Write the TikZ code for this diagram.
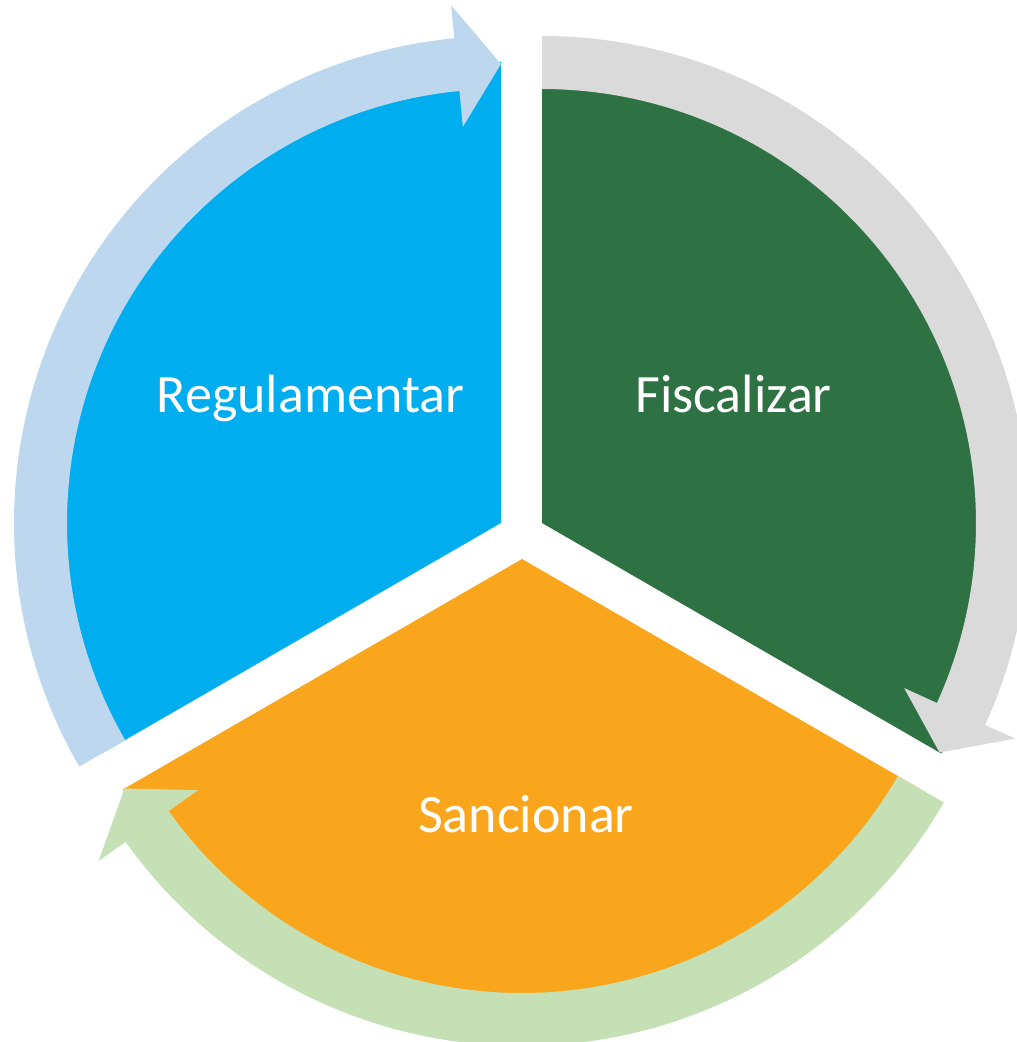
\documentclass[tikz,border=0pt]{standalone}
\usepackage{fontspec}
\setmainfont{Carlito}
\definecolor{regblue}{HTML}{00AEEF}
\definecolor{fisgreen}{HTML}{2E7244}
\definecolor{sanorange}{HTML}{F9A61C}
\definecolor{arrblue}{HTML}{BDD7EE}
\definecolor{arrgray}{HTML}{DADADA}
\definecolor{arrgreen}{HTML}{C5E0B4}
\newcommand{\pieslice}[4]{%
  \fill[#1] (#2) -- ++(#3:461pt) arc[start angle=#3, end angle=#4, radius=461pt] -- cycle;}
\newcommand{\cyclearrow}[3]{%
  \fill[#1,shift={(#2)}] (#3:487pt) arc[start angle=#3, end angle=#3-114.5, radius=487pt]
    -- (#3-114.5:520pt) -- (#3-120:459pt) -- (#3-114.5:398pt)
    -- (#3-114.5:434pt) arc[start angle=#3-114.5, end angle=#3, radius=434pt] -- cycle;}
\tikzset{
  steplabel/.style={text=white, font=\fontsize{54}{64}\selectfont, inner sep=0pt, anchor=base}
}

\begin{document}
\begin{tikzpicture}[x=1pt,y=1pt]
  \useasboundingbox (0,0) rectangle (1017,-1042);
  \coordinate (regapex) at (501,-523);
  \coordinate (fisapex) at (542,-523);
  \coordinate (sanapex) at (522,-559);
  \pieslice{regblue}{regapex}{90}{210}
  \pieslice{fisgreen}{fisapex}{-30}{90}
  \pieslice{sanorange}{sanapex}{210}{330}
  \cyclearrow{arrblue}{regapex}{210}
  \cyclearrow{arrgray}{fisapex}{90}
  \cyclearrow{arrgreen}{sanapex}{330}
  \node[steplabel] (regtext) at (310.5,-412) {Regulamentar};
  \node[steplabel] (fistext) at (733.5,-412) {Fiscalizar};
  \node[steplabel] (santext) at (526,-832) {Sancionar};
\end{tikzpicture}
\end{document}
